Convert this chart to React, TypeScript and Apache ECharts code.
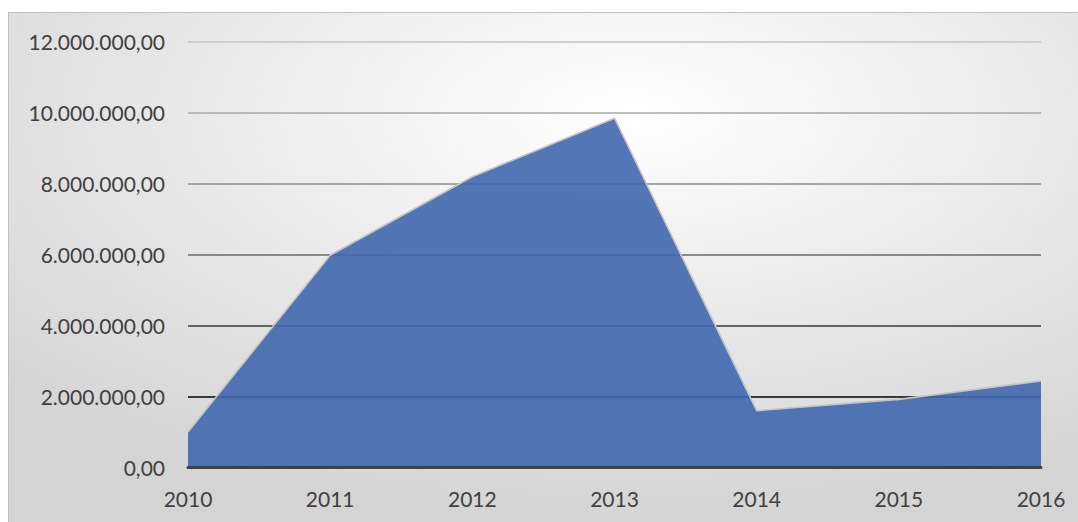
import React, { useEffect, useRef } from "react";
import * as echarts from "echarts";

const years = ["2010", "2011", "2012", "2013", "2014", "2015", "2016"];
const values = [1000000, 5980000, 8190000, 9840000, 1600000, 1920000, 2440000];
const gridColors = ["#404040", "#000000", "#3a3a3a", "#6a6a6a", "#8a8a8a", "#a8a8a8", "#c4c4c4"];

function fmt(v: number): string {
  const intPart = Math.round(v).toString().replace(/\B(?=(\d{3})+(?!\d))/g, ".");
  return intPart + ",00";
}

export default function App() {
  const ref = useRef<HTMLDivElement>(null);
  useEffect(() => {
    if (!ref.current) return;
    const chart = echarts.init(ref.current, undefined, { renderer: "svg" });
    chart.setOption({
      animation: false,
      backgroundColor: {
        type: "radial",
        x: 0.58,
        y: 0.2,
        r: 0.8,
        colorStops: [
          { offset: 0, color: "#ffffff" },
          { offset: 1, color: "#d4d4d4" },
        ],
      },
      textStyle: { fontFamily: "Lato, 'Open Sans', sans-serif" },
      grid: { left: 179, top: 28.5, width: 853, height: 426 },
      xAxis: {
        type: "category",
        data: years,
        boundaryGap: false,
        axisLine: { show: true, lineStyle: { color: "#404040", width: 3 } },
        axisTick: { show: false },
        axisLabel: { color: "#404040", fontSize: 21, margin: 20 },
        splitLine: { show: false },
        z: 5,
      },
      yAxis: {
        type: "value",
        min: 0,
        max: 12000000,
        interval: 2000000,
        axisLine: { show: false },
        axisTick: { show: false },
        axisLabel: { color: "#404040", fontSize: 21, margin: 23, formatter: (v: number) => fmt(v) },
        splitLine: { show: true, lineStyle: { color: gridColors, width: 1.5 } },
      },
      series: [
        {
          type: "line",
          data: values,
          symbol: "none",
          z: 3,
          lineStyle: { color: "#c4c4c4", width: 1.6 },
          areaStyle: { color: "rgba(64,103,174,0.9)", opacity: 1 },
        },
      ],
    });
    return () => chart.dispose();
  }, []);
  return (
    <div
      style={{
        position: "absolute",
        left: 8,
        top: 12,
        borderTop: "1px solid #c0c0c0",
        borderLeft: "1px solid #c0c0c0",
      }}
    >
      <div ref={ref} style={{ width: 1069, height: 509 }} />
    </div>
  );
}
